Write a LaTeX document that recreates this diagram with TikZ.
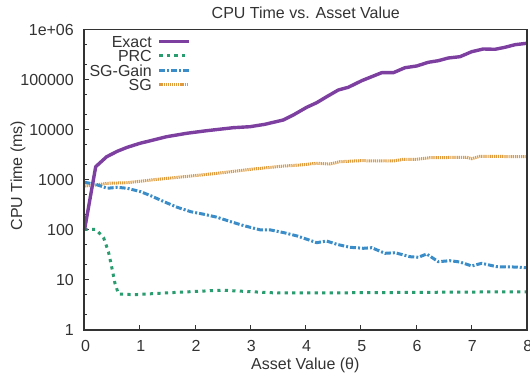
\documentclass[tikz,border=0pt]{standalone}
\usepackage{fontspec}
\setmainfont{Liberation Sans}
\definecolor{cexact}{HTML}{7D3FA0}
\definecolor{cprc}{HTML}{2A9D70}
\definecolor{cgain}{HTML}{3A8DC8}
\definecolor{csg}{HTML}{DE9A3C}
\definecolor{ctext}{HTML}{333333}
\begin{document}
\begin{tikzpicture}[x=1pt,y=-1pt,
  lbl/.style={inner sep=0pt,text height=11.5pt,text depth=0pt,text=ctext,font=\fontsize{16}{19}\selectfont},
  exactline/.style={cexact,line width=3.4pt,line join=round},
  prcline/.style={cprc,line width=3pt,dash pattern=on 3.2pt off 4.3pt},
  gainline/.style={cgain,line width=3pt,dash pattern=on 6pt off 2pt on 2pt off 2pt},
  sgline/.style={csg,line width=3pt,dash pattern=on 1.2pt off 0.9pt},
  tickline/.style={ctext,line width=1pt}]
\useasboundingbox (0,0) rectangle (530,379);
% title and axis labels
\node[lbl] (title) at (305.8,13.2) {CPU Time vs. Asset Value};
\node[lbl] (xlabel) at (305.3,364.2) {Asset Value (θ)};
\node[lbl,rotate=90] (ylabel) at (16.3,175.5) {CPU Time (ms)};
% y ticks
\foreach \d/\t in {0/1,1/10,2/100,3/1000,4/10000,5/100000,6/1e+06}{
  \node[lbl,anchor=east] (yt\d) at (74,330-50.1*\d) {\t};
  \draw[tickline] (84,330-50.1*\d) -- (89,330-50.1*\d);
}
\foreach \d in {0,...,5}{
  \foreach \m in {2,5}{
    \pgfmathsetmacro\yy{330-50.1*(\d+log10(\m))}
    \draw[tickline] (84,\yy) -- (87,\yy);
  }
}
% x ticks
\foreach \k in {0,...,8}{
  \node[lbl] (xt\k) at (85.5+55.275*\k,345.5) {\k};
  \draw[tickline] (84.5+55.275*\k,330) -- (84.5+55.275*\k,325);
}
% curves
\draw[sgline] (84.5,186) -- (95.7,185) -- (107.3,183.3) -- (127.3,182.7) -- (150.7,180) -- (184,176.7) -- (217.3,173.3) -- (250.7,169.3) -- (284,166) -- (300,165) -- (316.7,163.3) -- (330,164) -- (340,161.7) -- (360,160.7) -- (393.3,161) -- (403.3,159.3) -- (416.7,159.3) -- (430,157.7) -- (466.7,157.3) -- (471.7,158.7) -- (480,156.3) -- (526.7,156.7);
\draw[gainline] (84.5,182.3) -- (95.7,184.3) -- (107.3,188.3) -- (117.3,187.3) -- (127.3,188.3) -- (140.7,191.7) -- (150.7,195.7) -- (164,201.7) -- (177.3,207.3) -- (190.7,211.7) -- (204,214.3) -- (217.3,217.3) -- (230.7,221.7) -- (244,225.7) -- (260.7,230) -- (270.7,230) -- (284,232.7) -- (297.3,236) -- (309,240) -- (316.7,242.7) -- (326.7,241) -- (336.7,244.3) -- (350,247.3) -- (363.3,248.3) -- (371.7,247.7) -- (385,253.3) -- (395,252.7) -- (410,256.7) -- (418.3,257.3) -- (426.7,254) -- (438.3,261.7) -- (450,260.7) -- (460,262) -- (471.7,266) -- (481.7,263.3) -- (496.7,266.7) -- (513.3,267) -- (526.7,267.7);
\draw[prcline] (84.5,229.3) -- (95.7,229.3) -- (103.5,237.5) -- (108.5,252) -- (111.7,267) -- (115,283.5) -- (118.5,294) -- (134,294.7) -- (170,292.7) -- (210.7,290.7) -- (224,290.3) -- (250.7,291.7) -- (277.3,293) -- (309,293) -- (480,292) -- (526.7,292);
\draw[exactline] (84.5,230) -- (95.7,166.7) -- (106.7,156.7) -- (117.3,151.3) -- (127.3,147.3) -- (140,143.3) -- (166.7,136.7) -- (186.7,133.3) -- (206.7,130.7) -- (233.3,127.7) -- (250,126.7) -- (265,124.3) -- (271.7,122.7) -- (283.3,120) -- (293.3,115) -- (306.7,107.3) -- (316.7,102.7) -- (326.7,96.7) -- (338.3,90) -- (348.3,87.3) -- (361.7,80.7) -- (371.7,76.7) -- (381.7,72.7) -- (393.3,72.7) -- (405,67.7) -- (416.7,66) -- (428.3,62.3) -- (438.3,60.7) -- (448.3,58) -- (460,56.7) -- (471.7,51.7) -- (483.3,49) -- (495,49.3) -- (505,47.3) -- (515,44.7) -- (526.7,43.3);
% frame
\draw[ctext,line width=1.4pt] (84,29.5) rectangle (527,330);
% legend
\node[lbl,anchor=east] (lexact) at (152,41.7) {Exact};
\node[lbl,anchor=east] (lprc) at (152,55.5) {PRC};
\node[lbl,anchor=east] (lgain) at (152,70.7) {SG-Gain};
\node[lbl,anchor=east] (lsg) at (152,85) {SG};
\draw[exactline] (159.3,41.7) -- (188.5,41.7);
\draw[prcline] (159.3,55.5) -- (188.5,55.5);
\draw[gainline] (159.3,70.7) -- (188.5,70.7);
\draw[sgline] (159.3,85) -- (188.5,85);
\end{tikzpicture}
\end{document}
